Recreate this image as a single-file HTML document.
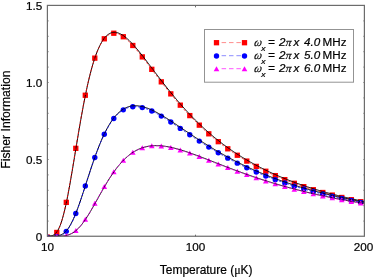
<!DOCTYPE html><html><head><meta charset="utf-8"><style>html,body{margin:0;padding:0;background:#fff}svg{display:block;will-change:transform}text{font-family:"Liberation Sans",sans-serif;fill:#000;stroke:#000;stroke-width:0.2px}</style></head><body>
<svg width="374" height="279" viewBox="0 0 374 279">
<rect width="374" height="279" fill="#fff"/>
<defs><clipPath id="c"><rect x="47.5" y="5.5" width="317.0" height="231.0"/></clipPath></defs>
<g clip-path="url(#c)">
<rect x="44.65" y="234.47" width="5.3" height="5.3" fill="#ff0000"/>
<rect x="54.15" y="229.80" width="5.3" height="5.3" fill="#ff0000"/>
<rect x="63.65" y="199.72" width="5.3" height="5.3" fill="#ff0000"/>
<rect x="73.15" y="145.70" width="5.3" height="5.3" fill="#ff0000"/>
<rect x="82.65" y="92.60" width="5.3" height="5.3" fill="#ff0000"/>
<rect x="92.15" y="55.49" width="5.3" height="5.3" fill="#ff0000"/>
<rect x="101.65" y="36.14" width="5.3" height="5.3" fill="#ff0000"/>
<rect x="111.15" y="30.58" width="5.3" height="5.3" fill="#ff0000"/>
<rect x="120.65" y="34.09" width="5.3" height="5.3" fill="#ff0000"/>
<rect x="130.15" y="42.84" width="5.3" height="5.3" fill="#ff0000"/>
<rect x="139.65" y="54.25" width="5.3" height="5.3" fill="#ff0000"/>
<rect x="149.15" y="66.69" width="5.3" height="5.3" fill="#ff0000"/>
<rect x="158.65" y="79.20" width="5.3" height="5.3" fill="#ff0000"/>
<rect x="168.15" y="91.23" width="5.3" height="5.3" fill="#ff0000"/>
<rect x="177.65" y="102.52" width="5.3" height="5.3" fill="#ff0000"/>
<rect x="187.15" y="112.95" width="5.3" height="5.3" fill="#ff0000"/>
<rect x="196.65" y="122.50" width="5.3" height="5.3" fill="#ff0000"/>
<rect x="206.15" y="131.17" width="5.3" height="5.3" fill="#ff0000"/>
<rect x="215.65" y="139.03" width="5.3" height="5.3" fill="#ff0000"/>
<rect x="225.15" y="146.15" width="5.3" height="5.3" fill="#ff0000"/>
<rect x="234.65" y="152.59" width="5.3" height="5.3" fill="#ff0000"/>
<rect x="244.15" y="158.44" width="5.3" height="5.3" fill="#ff0000"/>
<rect x="253.65" y="163.75" width="5.3" height="5.3" fill="#ff0000"/>
<rect x="263.15" y="168.59" width="5.3" height="5.3" fill="#ff0000"/>
<rect x="272.65" y="172.98" width="5.3" height="5.3" fill="#ff0000"/>
<rect x="282.15" y="176.99" width="5.3" height="5.3" fill="#ff0000"/>
<rect x="291.65" y="180.65" width="5.3" height="5.3" fill="#ff0000"/>
<rect x="301.15" y="184.00" width="5.3" height="5.3" fill="#ff0000"/>
<rect x="310.65" y="187.06" width="5.3" height="5.3" fill="#ff0000"/>
<rect x="320.15" y="189.86" width="5.3" height="5.3" fill="#ff0000"/>
<rect x="329.65" y="192.44" width="5.3" height="5.3" fill="#ff0000"/>
<rect x="339.15" y="194.82" width="5.3" height="5.3" fill="#ff0000"/>
<rect x="348.65" y="197.02" width="5.3" height="5.3" fill="#ff0000"/>
<rect x="358.15" y="199.05" width="5.3" height="5.3" fill="#ff0000"/>
<path d="M47.50,236.22 L48.29,236.20 L49.09,236.15 L49.88,236.08 L50.67,235.97 L51.46,235.81 L52.26,235.57 L53.05,235.25 L53.84,234.83 L54.63,234.28 L55.42,233.58 L56.22,232.72 L57.01,231.68 L57.80,230.44 L58.59,228.99 L59.39,227.32 L60.18,225.41 L60.97,223.27 L61.77,220.90 L62.56,218.28 L63.35,215.44 L64.14,212.36 L64.94,209.06 L65.73,205.56 L66.52,201.85 L67.31,197.97 L68.11,193.91 L68.90,189.71 L69.69,185.37 L70.48,180.91 L71.28,176.36 L72.07,171.72 L72.86,167.01 L73.65,162.26 L74.44,157.47 L75.24,152.68 L76.03,147.88 L76.82,143.09 L77.62,138.33 L78.41,133.61 L79.20,128.95 L79.99,124.35 L80.78,119.82 L81.58,115.37 L82.37,111.02 L83.16,106.76 L83.96,102.61 L84.75,98.57 L85.54,94.64 L86.33,90.83 L87.12,87.14 L87.92,83.58 L88.71,80.15 L89.50,76.85 L90.30,73.68 L91.09,70.63 L91.88,67.72 L92.67,64.94 L93.47,62.30 L94.26,59.78 L95.05,57.39 L95.84,55.12 L96.64,52.98 L97.43,50.96 L98.22,49.07 L99.01,47.29 L99.81,45.63 L100.60,44.08 L101.39,42.64 L102.18,41.31 L102.97,40.09 L103.77,38.96 L104.56,37.94 L105.35,37.01 L106.15,36.18 L106.94,35.44 L107.73,34.78 L108.52,34.21 L109.31,33.72 L110.11,33.30 L110.90,32.97 L111.69,32.71 L112.49,32.51 L113.28,32.39 L114.07,32.33 L114.86,32.34 L115.66,32.40 L116.45,32.53 L117.24,32.70 L118.03,32.93 L118.83,33.21 L119.62,33.54 L120.41,33.91 L121.20,34.33 L122.00,34.79 L122.79,35.29 L123.58,35.82 L124.37,36.40 L125.16,37.00 L125.96,37.64 L126.75,38.31 L127.54,39.01 L128.34,39.73 L129.13,40.48 L129.92,41.26 L130.71,42.06 L131.50,42.88 L132.30,43.72 L133.09,44.58 L133.88,45.46 L134.68,46.35 L135.47,47.26 L136.26,48.19 L137.05,49.13 L137.85,50.08 L138.64,51.04 L139.43,52.02 L140.22,53.00 L141.01,53.99 L141.81,54.99 L142.60,56.00 L143.39,57.02 L144.19,58.04 L144.98,59.07 L145.77,60.10 L146.56,61.13 L147.35,62.17 L148.15,63.22 L148.94,64.26 L149.73,65.31 L150.53,66.36 L151.32,67.41 L152.11,68.46 L152.90,69.51 L153.70,70.56 L154.49,71.61 L155.28,72.66 L156.07,73.70 L156.87,74.75 L157.66,75.79 L158.45,76.84 L159.24,77.88 L160.04,78.91 L160.83,79.95 L161.62,80.98 L162.41,82.00 L163.20,83.03 L164.00,84.05 L164.79,85.06 L165.58,86.07 L166.38,87.08 L167.17,88.08 L167.96,89.08 L168.75,90.07 L169.55,91.06 L170.34,92.04 L171.13,93.02 L171.92,93.99 L172.72,94.96 L173.51,95.92 L174.30,96.88 L175.09,97.83 L175.89,98.78 L176.68,99.71 L177.47,100.65 L178.26,101.57 L179.06,102.50 L179.85,103.41 L180.64,104.32 L181.43,105.22 L182.22,106.12 L183.02,107.01 L183.81,107.90 L184.60,108.78 L185.40,109.65 L186.19,110.52 L186.98,111.38 L187.77,112.23 L188.56,113.08 L189.36,113.92 L190.15,114.76 L190.94,115.59 L191.74,116.41 L192.53,117.23 L193.32,118.04 L194.11,118.84 L194.91,119.64 L195.70,120.44 L196.49,121.22 L197.28,122.00 L198.08,122.78 L198.87,123.55 L199.66,124.31 L200.45,125.06 L201.25,125.81 L202.04,126.55 L202.83,127.29 L203.62,128.02 L204.41,128.75 L205.21,129.47 L206.00,130.18 L206.79,130.89 L207.59,131.59 L208.38,132.29 L209.17,132.98 L209.96,133.66 L210.75,134.34 L211.55,135.02 L212.34,135.68 L213.13,136.35 L213.93,137.01 L214.72,137.66 L215.51,138.30 L216.30,138.95 L217.10,139.58 L217.89,140.21 L218.68,140.84 L219.47,141.46 L220.27,142.08 L221.06,142.69 L221.85,143.29 L222.64,143.89 L223.44,144.49 L224.23,145.08 L225.02,145.66 L225.81,146.25 L226.60,146.82 L227.40,147.39 L228.19,147.96 L228.98,148.52 L229.78,149.08 L230.57,149.63 L231.36,150.18 L232.15,150.73 L232.95,151.26 L233.74,151.80 L234.53,152.33 L235.32,152.86 L236.12,153.38 L236.91,153.90 L237.70,154.41 L238.49,154.92 L239.29,155.42 L240.08,155.92 L240.87,156.42 L241.66,156.91 L242.46,157.40 L243.25,157.89 L244.04,158.37 L244.83,158.84 L245.62,159.32 L246.42,159.79 L247.21,160.25 L248.00,160.71 L248.80,161.17 L249.59,161.63 L250.38,162.08 L251.17,162.53 L251.97,162.97 L252.76,163.42 L253.55,163.85 L254.34,164.29 L255.13,164.72 L255.93,165.15 L256.72,165.57 L257.51,165.99 L258.31,166.41 L259.10,166.82 L259.89,167.23 L260.68,167.64 L261.48,168.04 L262.27,168.44 L263.06,168.84 L263.85,169.24 L264.64,169.63 L265.44,170.02 L266.23,170.40 L267.02,170.78 L267.82,171.16 L268.61,171.54 L269.40,171.91 L270.19,172.28 L270.99,172.65 L271.78,173.02 L272.57,173.38 L273.36,173.74 L274.15,174.09 L274.95,174.45 L275.74,174.80 L276.53,175.15 L277.33,175.49 L278.12,175.83 L278.91,176.17 L279.70,176.51 L280.50,176.85 L281.29,177.18 L282.08,177.51 L282.87,177.84 L283.67,178.16 L284.46,178.48 L285.25,178.80 L286.04,179.12 L286.83,179.44 L287.63,179.75 L288.42,180.06 L289.21,180.37 L290.00,180.68 L290.80,180.98 L291.59,181.28 L292.38,181.58 L293.18,181.88 L293.97,182.17 L294.76,182.46 L295.55,182.75 L296.35,183.04 L297.14,183.33 L297.93,183.61 L298.72,183.89 L299.52,184.17 L300.31,184.45 L301.10,184.73 L301.89,185.00 L302.69,185.27 L303.48,185.54 L304.27,185.81 L305.06,186.08 L305.86,186.34 L306.65,186.60 L307.44,186.86 L308.23,187.12 L309.03,187.37 L309.82,187.62 L310.61,187.88 L311.40,188.13 L312.20,188.37 L312.99,188.62 L313.78,188.86 L314.57,189.11 L315.37,189.35 L316.16,189.59 L316.95,189.83 L317.74,190.06 L318.53,190.30 L319.33,190.53 L320.12,190.76 L320.91,190.99 L321.70,191.22 L322.50,191.44 L323.29,191.67 L324.08,191.89 L324.88,192.11 L325.67,192.33 L326.46,192.55 L327.25,192.77 L328.05,192.98 L328.84,193.20 L329.63,193.41 L330.42,193.62 L331.22,193.83 L332.01,194.04 L332.80,194.25 L333.59,194.45 L334.38,194.66 L335.18,194.86 L335.97,195.06 L336.76,195.26 L337.56,195.46 L338.35,195.66 L339.14,195.85 L339.93,196.05 L340.73,196.24 L341.52,196.43 L342.31,196.62 L343.10,196.81 L343.90,197.00 L344.69,197.19 L345.48,197.37 L346.27,197.56 L347.07,197.74 L347.86,197.93 L348.65,198.11 L349.44,198.29 L350.24,198.46 L351.03,198.64 L351.82,198.82 L352.61,198.99 L353.41,199.17 L354.20,199.34 L354.99,199.51 L355.78,199.68 L356.57,199.85 L357.37,200.02 L358.16,200.19 L358.95,200.36 L359.75,200.52 L360.54,200.69 L361.33,200.85 L362.12,201.01 L362.92,201.17 L363.71,201.33 L364.50,201.48" fill="none" stroke="#000" stroke-width="1"/>
<path d="M47.20,237.12 L47.99,237.10 L48.79,237.05 L49.58,236.98 L50.37,236.87 L51.16,236.71 L51.96,236.47 L52.75,236.15 L53.54,235.73 L54.33,235.18 L55.12,234.48 L55.92,233.62 L56.71,232.58 L57.50,231.34 L58.30,229.89 L59.09,228.22 L59.88,226.31 L60.67,224.17 L61.47,221.80 L62.26,219.18 L63.05,216.34 L63.84,213.26 L64.64,209.96 L65.43,206.46 L66.22,202.75 L67.01,198.87 L67.81,194.81 L68.60,190.61 L69.39,186.27 L70.18,181.81 L70.98,177.26 L71.77,172.62 L72.56,167.91 L73.35,163.16 L74.14,158.37 L74.94,153.58 L75.73,148.78 L76.52,143.99 L77.32,139.23 L78.11,134.51 L78.90,129.85 L79.69,125.25 L80.48,120.72 L81.28,116.27 L82.07,111.92 L82.86,107.66 L83.66,103.51 L84.45,99.47 L85.24,95.54 L86.03,91.73 L86.83,88.04 L87.62,84.48 L88.41,81.05 L89.20,77.75 L90.00,74.58 L90.79,71.53 L91.58,68.62 L92.37,65.84 L93.17,63.20 L93.96,60.68 L94.75,58.29 L95.54,56.02 L96.34,53.88 L97.13,51.86 L97.92,49.97 L98.71,48.19 L99.51,46.53 L100.30,44.98 L101.09,43.54 L101.88,42.21 L102.67,40.99 L103.47,39.86 L104.26,38.84 L105.05,37.91 L105.85,37.08 L106.64,36.34 L107.43,35.68 L108.22,35.11 L109.02,34.62 L109.81,34.20 L110.60,33.87 L111.39,33.61 L112.19,33.41 L112.98,33.29 L113.77,33.23 L114.56,33.24 L115.36,33.30 L116.15,33.43 L116.94,33.60 L117.73,33.83 L118.53,34.11 L119.32,34.44 L120.11,34.81 L120.90,35.23 L121.70,35.69 L122.49,36.19 L123.28,36.72 L124.07,37.30 L124.86,37.90 L125.66,38.54 L126.45,39.21 L127.24,39.91 L128.03,40.63 L128.83,41.38 L129.62,42.16 L130.41,42.96 L131.20,43.78 L132.00,44.62 L132.79,45.48 L133.58,46.36 L134.38,47.25 L135.17,48.16 L135.96,49.09 L136.75,50.03 L137.55,50.98 L138.34,51.94 L139.13,52.92 L139.92,53.90 L140.71,54.89 L141.51,55.89 L142.30,56.90 L143.09,57.92 L143.88,58.94 L144.68,59.97 L145.47,61.00 L146.26,62.03 L147.05,63.07 L147.85,64.12 L148.64,65.16 L149.43,66.21 L150.22,67.26 L151.02,68.31 L151.81,69.36 L152.60,70.41 L153.40,71.46 L154.19,72.51 L154.98,73.56 L155.77,74.60 L156.56,75.65 L157.36,76.69 L158.15,77.74 L158.94,78.78 L159.74,79.81 L160.53,80.85 L161.32,81.88 L162.11,82.90 L162.90,83.93 L163.70,84.95 L164.49,85.96 L165.28,86.97 L166.07,87.98 L166.87,88.98 L167.66,89.98 L168.45,90.97 L169.25,91.96 L170.04,92.94 L170.83,93.92 L171.62,94.89 L172.41,95.86 L173.21,96.82 L174.00,97.78 L174.79,98.73 L175.59,99.68 L176.38,100.61 L177.17,101.55 L177.96,102.47 L178.75,103.40 L179.55,104.31 L180.34,105.22 L181.13,106.12 L181.92,107.02 L182.72,107.91 L183.51,108.80 L184.30,109.68 L185.09,110.55 L185.89,111.42 L186.68,112.28 L187.47,113.13 L188.26,113.98 L189.06,114.82 L189.85,115.66 L190.64,116.49 L191.44,117.31 L192.23,118.13 L193.02,118.94 L193.81,119.74 L194.60,120.54 L195.40,121.34 L196.19,122.12 L196.98,122.90 L197.78,123.68 L198.57,124.45 L199.36,125.21 L200.15,125.96 L200.94,126.71 L201.74,127.45 L202.53,128.19 L203.32,128.92 L204.11,129.65 L204.91,130.37 L205.70,131.08 L206.49,131.79 L207.28,132.49 L208.08,133.19 L208.87,133.88 L209.66,134.56 L210.45,135.24 L211.25,135.92 L212.04,136.58 L212.83,137.25 L213.62,137.91 L214.42,138.56 L215.21,139.20 L216.00,139.85 L216.80,140.48 L217.59,141.11 L218.38,141.74 L219.17,142.36 L219.97,142.98 L220.76,143.59 L221.55,144.19 L222.34,144.79 L223.13,145.39 L223.93,145.98 L224.72,146.56 L225.51,147.15 L226.30,147.72 L227.10,148.29 L227.89,148.86 L228.68,149.42 L229.47,149.98 L230.27,150.53 L231.06,151.08 L231.85,151.63 L232.65,152.16 L233.44,152.70 L234.23,153.23 L235.02,153.76 L235.81,154.28 L236.61,154.80 L237.40,155.31 L238.19,155.82 L238.99,156.32 L239.78,156.82 L240.57,157.32 L241.36,157.81 L242.16,158.30 L242.95,158.79 L243.74,159.27 L244.53,159.74 L245.32,160.22 L246.12,160.69 L246.91,161.15 L247.70,161.61 L248.50,162.07 L249.29,162.53 L250.08,162.98 L250.87,163.43 L251.67,163.87 L252.46,164.32 L253.25,164.75 L254.04,165.19 L254.83,165.62 L255.63,166.05 L256.42,166.47 L257.21,166.89 L258.00,167.31 L258.80,167.72 L259.59,168.13 L260.38,168.54 L261.18,168.94 L261.97,169.34 L262.76,169.74 L263.55,170.14 L264.34,170.53 L265.14,170.92 L265.93,171.30 L266.72,171.68 L267.52,172.06 L268.31,172.44 L269.10,172.81 L269.89,173.18 L270.69,173.55 L271.48,173.92 L272.27,174.28 L273.06,174.64 L273.85,174.99 L274.65,175.35 L275.44,175.70 L276.23,176.05 L277.03,176.39 L277.82,176.73 L278.61,177.07 L279.40,177.41 L280.19,177.75 L280.99,178.08 L281.78,178.41 L282.57,178.74 L283.37,179.06 L284.16,179.38 L284.95,179.70 L285.74,180.02 L286.53,180.34 L287.33,180.65 L288.12,180.96 L288.91,181.27 L289.70,181.58 L290.50,181.88 L291.29,182.18 L292.08,182.48 L292.88,182.78 L293.67,183.07 L294.46,183.36 L295.25,183.65 L296.05,183.94 L296.84,184.23 L297.63,184.51 L298.42,184.79 L299.22,185.07 L300.01,185.35 L300.80,185.63 L301.59,185.90 L302.38,186.17 L303.18,186.44 L303.97,186.71 L304.76,186.98 L305.56,187.24 L306.35,187.50 L307.14,187.76 L307.93,188.02 L308.73,188.27 L309.52,188.52 L310.31,188.78 L311.10,189.03 L311.90,189.27 L312.69,189.52 L313.48,189.76 L314.27,190.01 L315.06,190.25 L315.86,190.49 L316.65,190.73 L317.44,190.96 L318.23,191.20 L319.03,191.43 L319.82,191.66 L320.61,191.89 L321.40,192.12 L322.20,192.34 L322.99,192.57 L323.78,192.79 L324.57,193.01 L325.37,193.23 L326.16,193.45 L326.95,193.67 L327.75,193.88 L328.54,194.10 L329.33,194.31 L330.12,194.52 L330.92,194.73 L331.71,194.94 L332.50,195.15 L333.29,195.35 L334.08,195.56 L334.88,195.76 L335.67,195.96 L336.46,196.16 L337.25,196.36 L338.05,196.56 L338.84,196.75 L339.63,196.95 L340.43,197.14 L341.22,197.33 L342.01,197.52 L342.80,197.71 L343.60,197.90 L344.39,198.09 L345.18,198.27 L345.97,198.46 L346.77,198.64 L347.56,198.83 L348.35,199.01 L349.14,199.19 L349.94,199.36 L350.73,199.54 L351.52,199.72 L352.31,199.89 L353.11,200.07 L353.90,200.24 L354.69,200.41 L355.48,200.58 L356.27,200.75 L357.07,200.92 L357.86,201.09 L358.65,201.26 L359.44,201.42 L360.24,201.59 L361.03,201.75 L361.82,201.91 L362.62,202.07 L363.41,202.23 L364.20,202.38" fill="none" stroke="#ff0000" stroke-opacity="0.8" stroke-width="1" stroke-dasharray="2.4,1.6"/>
<circle cx="47.30" cy="237.15" r="2.7" fill="#0000ff"/>
<circle cx="56.80" cy="236.80" r="2.7" fill="#0000ff"/>
<circle cx="66.30" cy="231.35" r="2.7" fill="#0000ff"/>
<circle cx="75.80" cy="213.51" r="2.7" fill="#0000ff"/>
<circle cx="85.30" cy="185.97" r="2.7" fill="#0000ff"/>
<circle cx="94.80" cy="157.44" r="2.7" fill="#0000ff"/>
<circle cx="104.30" cy="134.25" r="2.7" fill="#0000ff"/>
<circle cx="113.80" cy="118.54" r="2.7" fill="#0000ff"/>
<circle cx="123.30" cy="109.86" r="2.7" fill="#0000ff"/>
<circle cx="132.80" cy="106.74" r="2.7" fill="#0000ff"/>
<circle cx="142.30" cy="107.58" r="2.7" fill="#0000ff"/>
<circle cx="151.80" cy="111.05" r="2.7" fill="#0000ff"/>
<circle cx="161.30" cy="116.11" r="2.7" fill="#0000ff"/>
<circle cx="170.80" cy="122.07" r="2.7" fill="#0000ff"/>
<circle cx="180.30" cy="128.41" r="2.7" fill="#0000ff"/>
<circle cx="189.80" cy="134.82" r="2.7" fill="#0000ff"/>
<circle cx="199.30" cy="141.09" r="2.7" fill="#0000ff"/>
<circle cx="208.80" cy="147.11" r="2.7" fill="#0000ff"/>
<circle cx="218.30" cy="152.81" r="2.7" fill="#0000ff"/>
<circle cx="227.80" cy="158.15" r="2.7" fill="#0000ff"/>
<circle cx="237.30" cy="163.13" r="2.7" fill="#0000ff"/>
<circle cx="246.80" cy="167.75" r="2.7" fill="#0000ff"/>
<circle cx="256.30" cy="172.03" r="2.7" fill="#0000ff"/>
<circle cx="265.80" cy="175.99" r="2.7" fill="#0000ff"/>
<circle cx="275.30" cy="179.64" r="2.7" fill="#0000ff"/>
<circle cx="284.80" cy="183.02" r="2.7" fill="#0000ff"/>
<circle cx="294.30" cy="186.13" r="2.7" fill="#0000ff"/>
<circle cx="303.80" cy="189.01" r="2.7" fill="#0000ff"/>
<circle cx="313.30" cy="191.68" r="2.7" fill="#0000ff"/>
<circle cx="322.80" cy="194.14" r="2.7" fill="#0000ff"/>
<circle cx="332.30" cy="196.43" r="2.7" fill="#0000ff"/>
<circle cx="341.80" cy="198.54" r="2.7" fill="#0000ff"/>
<circle cx="351.30" cy="200.51" r="2.7" fill="#0000ff"/>
<circle cx="360.80" cy="202.34" r="2.7" fill="#0000ff"/>
<path d="M47.50,236.25 L48.29,236.25 L49.09,236.25 L49.88,236.25 L50.67,236.24 L51.46,236.24 L52.26,236.22 L53.05,236.21 L53.84,236.18 L54.63,236.14 L55.42,236.09 L56.22,236.01 L57.01,235.91 L57.80,235.78 L58.59,235.61 L59.39,235.40 L60.18,235.14 L60.97,234.83 L61.77,234.45 L62.56,234.00 L63.35,233.47 L64.14,232.87 L64.94,232.19 L65.73,231.41 L66.52,230.54 L67.31,229.58 L68.11,228.53 L68.90,227.37 L69.69,226.12 L70.48,224.77 L71.28,223.32 L72.07,221.79 L72.86,220.15 L73.65,218.43 L74.44,216.63 L75.24,214.75 L76.03,212.78 L76.82,210.75 L77.62,208.65 L78.41,206.49 L79.20,204.28 L79.99,202.01 L80.78,199.70 L81.58,197.36 L82.37,194.98 L83.16,192.57 L83.96,190.15 L84.75,187.70 L85.54,185.25 L86.33,182.79 L87.12,180.34 L87.92,177.88 L88.71,175.44 L89.50,173.01 L90.30,170.59 L91.09,168.20 L91.88,165.84 L92.67,163.50 L93.47,161.19 L94.26,158.92 L95.05,156.68 L95.84,154.49 L96.64,152.33 L97.43,150.22 L98.22,148.16 L99.01,146.14 L99.81,144.17 L100.60,142.25 L101.39,140.38 L102.18,138.57 L102.97,136.80 L103.77,135.09 L104.56,133.43 L105.35,131.83 L106.15,130.28 L106.94,128.78 L107.73,127.33 L108.52,125.94 L109.31,124.61 L110.11,123.32 L110.90,122.09 L111.69,120.91 L112.49,119.78 L113.28,118.71 L114.07,117.68 L114.86,116.70 L115.66,115.77 L116.45,114.89 L117.24,114.06 L118.03,113.27 L118.83,112.53 L119.62,111.83 L120.41,111.18 L121.20,110.56 L122.00,109.99 L122.79,109.46 L123.58,108.97 L124.37,108.52 L125.16,108.11 L125.96,107.73 L126.75,107.39 L127.54,107.09 L128.34,106.81 L129.13,106.57 L129.92,106.37 L130.71,106.19 L131.50,106.04 L132.30,105.93 L133.09,105.84 L133.88,105.78 L134.68,105.74 L135.47,105.74 L136.26,105.75 L137.05,105.79 L137.85,105.85 L138.64,105.94 L139.43,106.05 L140.22,106.18 L141.01,106.33 L141.81,106.49 L142.60,106.68 L143.39,106.89 L144.19,107.11 L144.98,107.35 L145.77,107.60 L146.56,107.87 L147.35,108.16 L148.15,108.46 L148.94,108.77 L149.73,109.10 L150.53,109.44 L151.32,109.79 L152.11,110.15 L152.90,110.52 L153.70,110.91 L154.49,111.30 L155.28,111.70 L156.07,112.12 L156.87,112.54 L157.66,112.97 L158.45,113.41 L159.24,113.85 L160.04,114.30 L160.83,114.76 L161.62,115.23 L162.41,115.70 L163.20,116.17 L164.00,116.66 L164.79,117.14 L165.58,117.63 L166.38,118.13 L167.17,118.63 L167.96,119.14 L168.75,119.64 L169.55,120.15 L170.34,120.67 L171.13,121.19 L171.92,121.71 L172.72,122.23 L173.51,122.75 L174.30,123.28 L175.09,123.81 L175.89,124.33 L176.68,124.87 L177.47,125.40 L178.26,125.93 L179.06,126.46 L179.85,127.00 L180.64,127.53 L181.43,128.07 L182.22,128.61 L183.02,129.14 L183.81,129.68 L184.60,130.21 L185.40,130.75 L186.19,131.28 L186.98,131.82 L187.77,132.35 L188.56,132.89 L189.36,133.42 L190.15,133.95 L190.94,134.48 L191.74,135.01 L192.53,135.54 L193.32,136.07 L194.11,136.59 L194.91,137.12 L195.70,137.64 L196.49,138.16 L197.28,138.68 L198.08,139.20 L198.87,139.72 L199.66,140.23 L200.45,140.75 L201.25,141.26 L202.04,141.77 L202.83,142.27 L203.62,142.78 L204.41,143.28 L205.21,143.78 L206.00,144.28 L206.79,144.78 L207.59,145.27 L208.38,145.77 L209.17,146.26 L209.96,146.74 L210.75,147.23 L211.55,147.71 L212.34,148.19 L213.13,148.67 L213.93,149.15 L214.72,149.62 L215.51,150.10 L216.30,150.56 L217.10,151.03 L217.89,151.49 L218.68,151.96 L219.47,152.42 L220.27,152.87 L221.06,153.33 L221.85,153.78 L222.64,154.23 L223.44,154.67 L224.23,155.12 L225.02,155.56 L225.81,156.00 L226.60,156.44 L227.40,156.87 L228.19,157.30 L228.98,157.73 L229.78,158.16 L230.57,158.58 L231.36,159.00 L232.15,159.42 L232.95,159.84 L233.74,160.25 L234.53,160.66 L235.32,161.07 L236.12,161.48 L236.91,161.88 L237.70,162.28 L238.49,162.68 L239.29,163.08 L240.08,163.47 L240.87,163.86 L241.66,164.25 L242.46,164.64 L243.25,165.02 L244.04,165.40 L244.83,165.78 L245.62,166.16 L246.42,166.53 L247.21,166.90 L248.00,167.27 L248.80,167.64 L249.59,168.01 L250.38,168.37 L251.17,168.73 L251.97,169.09 L252.76,169.44 L253.55,169.79 L254.34,170.15 L255.13,170.49 L255.93,170.84 L256.72,171.18 L257.51,171.53 L258.31,171.87 L259.10,172.20 L259.89,172.54 L260.68,172.87 L261.48,173.20 L262.27,173.53 L263.06,173.86 L263.85,174.18 L264.64,174.50 L265.44,174.82 L266.23,175.14 L267.02,175.46 L267.82,175.77 L268.61,176.08 L269.40,176.39 L270.19,176.70 L270.99,177.00 L271.78,177.31 L272.57,177.61 L273.36,177.91 L274.15,178.20 L274.95,178.50 L275.74,178.79 L276.53,179.08 L277.33,179.37 L278.12,179.66 L278.91,179.95 L279.70,180.23 L280.50,180.51 L281.29,180.79 L282.08,181.07 L282.87,181.35 L283.67,181.62 L284.46,181.90 L285.25,182.17 L286.04,182.44 L286.83,182.70 L287.63,182.97 L288.42,183.23 L289.21,183.50 L290.00,183.76 L290.80,184.01 L291.59,184.27 L292.38,184.53 L293.18,184.78 L293.97,185.03 L294.76,185.28 L295.55,185.53 L296.35,185.78 L297.14,186.02 L297.93,186.27 L298.72,186.51 L299.52,186.75 L300.31,186.99 L301.10,187.23 L301.89,187.46 L302.69,187.70 L303.48,187.93 L304.27,188.16 L305.06,188.39 L305.86,188.62 L306.65,188.85 L307.44,189.07 L308.23,189.30 L309.03,189.52 L309.82,189.74 L310.61,189.96 L311.40,190.18 L312.20,190.40 L312.99,190.61 L313.78,190.82 L314.57,191.04 L315.37,191.25 L316.16,191.46 L316.95,191.67 L317.74,191.87 L318.53,192.08 L319.33,192.28 L320.12,192.49 L320.91,192.69 L321.70,192.89 L322.50,193.09 L323.29,193.29 L324.08,193.49 L324.88,193.68 L325.67,193.88 L326.46,194.07 L327.25,194.26 L328.05,194.45 L328.84,194.64 L329.63,194.83 L330.42,195.02 L331.22,195.20 L332.01,195.39 L332.80,195.57 L333.59,195.75 L334.38,195.94 L335.18,196.12 L335.97,196.29 L336.76,196.47 L337.56,196.65 L338.35,196.83 L339.14,197.00 L339.93,197.17 L340.73,197.35 L341.52,197.52 L342.31,197.69 L343.10,197.86 L343.90,198.03 L344.69,198.19 L345.48,198.36 L346.27,198.53 L347.07,198.69 L347.86,198.85 L348.65,199.01 L349.44,199.18 L350.24,199.34 L351.03,199.50 L351.82,199.65 L352.61,199.81 L353.41,199.97 L354.20,200.12 L354.99,200.28 L355.78,200.43 L356.57,200.58 L357.37,200.74 L358.16,200.89 L358.95,201.04 L359.75,201.19 L360.54,201.33 L361.33,201.48 L362.12,201.63 L362.92,201.77 L363.71,201.92 L364.50,202.06" fill="none" stroke="#000" stroke-width="1"/>
<path d="M47.20,237.15 L47.99,237.15 L48.79,237.15 L49.58,237.15 L50.37,237.14 L51.16,237.14 L51.96,237.12 L52.75,237.11 L53.54,237.08 L54.33,237.04 L55.12,236.99 L55.92,236.91 L56.71,236.81 L57.50,236.68 L58.30,236.51 L59.09,236.30 L59.88,236.04 L60.67,235.73 L61.47,235.35 L62.26,234.90 L63.05,234.37 L63.84,233.77 L64.64,233.09 L65.43,232.31 L66.22,231.44 L67.01,230.48 L67.81,229.43 L68.60,228.27 L69.39,227.02 L70.18,225.67 L70.98,224.22 L71.77,222.69 L72.56,221.05 L73.35,219.33 L74.14,217.53 L74.94,215.65 L75.73,213.68 L76.52,211.65 L77.32,209.55 L78.11,207.39 L78.90,205.18 L79.69,202.91 L80.48,200.60 L81.28,198.26 L82.07,195.88 L82.86,193.47 L83.66,191.05 L84.45,188.60 L85.24,186.15 L86.03,183.69 L86.83,181.24 L87.62,178.78 L88.41,176.34 L89.20,173.91 L90.00,171.49 L90.79,169.10 L91.58,166.74 L92.37,164.40 L93.17,162.09 L93.96,159.82 L94.75,157.58 L95.54,155.39 L96.34,153.23 L97.13,151.12 L97.92,149.06 L98.71,147.04 L99.51,145.07 L100.30,143.15 L101.09,141.28 L101.88,139.47 L102.67,137.70 L103.47,135.99 L104.26,134.33 L105.05,132.73 L105.85,131.18 L106.64,129.68 L107.43,128.23 L108.22,126.84 L109.02,125.51 L109.81,124.22 L110.60,122.99 L111.39,121.81 L112.19,120.68 L112.98,119.61 L113.77,118.58 L114.56,117.60 L115.36,116.67 L116.15,115.79 L116.94,114.96 L117.73,114.17 L118.53,113.43 L119.32,112.73 L120.11,112.08 L120.90,111.46 L121.70,110.89 L122.49,110.36 L123.28,109.87 L124.07,109.42 L124.86,109.01 L125.66,108.63 L126.45,108.29 L127.24,107.99 L128.03,107.71 L128.83,107.47 L129.62,107.27 L130.41,107.09 L131.20,106.94 L132.00,106.83 L132.79,106.74 L133.58,106.68 L134.38,106.64 L135.17,106.64 L135.96,106.65 L136.75,106.69 L137.55,106.75 L138.34,106.84 L139.13,106.95 L139.92,107.08 L140.71,107.23 L141.51,107.39 L142.30,107.58 L143.09,107.79 L143.88,108.01 L144.68,108.25 L145.47,108.50 L146.26,108.77 L147.05,109.06 L147.85,109.36 L148.64,109.67 L149.43,110.00 L150.22,110.34 L151.02,110.69 L151.81,111.05 L152.60,111.42 L153.40,111.81 L154.19,112.20 L154.98,112.60 L155.77,113.02 L156.56,113.44 L157.36,113.87 L158.15,114.31 L158.94,114.75 L159.74,115.20 L160.53,115.66 L161.32,116.13 L162.11,116.60 L162.90,117.07 L163.70,117.56 L164.49,118.04 L165.28,118.53 L166.07,119.03 L166.87,119.53 L167.66,120.04 L168.45,120.54 L169.25,121.05 L170.04,121.57 L170.83,122.09 L171.62,122.61 L172.41,123.13 L173.21,123.65 L174.00,124.18 L174.79,124.71 L175.59,125.23 L176.38,125.77 L177.17,126.30 L177.96,126.83 L178.75,127.36 L179.55,127.90 L180.34,128.43 L181.13,128.97 L181.92,129.51 L182.72,130.04 L183.51,130.58 L184.30,131.11 L185.09,131.65 L185.89,132.18 L186.68,132.72 L187.47,133.25 L188.26,133.79 L189.06,134.32 L189.85,134.85 L190.64,135.38 L191.44,135.91 L192.23,136.44 L193.02,136.97 L193.81,137.49 L194.60,138.02 L195.40,138.54 L196.19,139.06 L196.98,139.58 L197.78,140.10 L198.57,140.62 L199.36,141.13 L200.15,141.65 L200.94,142.16 L201.74,142.67 L202.53,143.17 L203.32,143.68 L204.11,144.18 L204.91,144.68 L205.70,145.18 L206.49,145.68 L207.28,146.17 L208.08,146.67 L208.87,147.16 L209.66,147.64 L210.45,148.13 L211.25,148.61 L212.04,149.09 L212.83,149.57 L213.62,150.05 L214.42,150.52 L215.21,151.00 L216.00,151.46 L216.80,151.93 L217.59,152.39 L218.38,152.86 L219.17,153.32 L219.97,153.77 L220.76,154.23 L221.55,154.68 L222.34,155.13 L223.13,155.57 L223.93,156.02 L224.72,156.46 L225.51,156.90 L226.30,157.34 L227.10,157.77 L227.89,158.20 L228.68,158.63 L229.47,159.06 L230.27,159.48 L231.06,159.90 L231.85,160.32 L232.65,160.74 L233.44,161.15 L234.23,161.56 L235.02,161.97 L235.81,162.38 L236.61,162.78 L237.40,163.18 L238.19,163.58 L238.99,163.98 L239.78,164.37 L240.57,164.76 L241.36,165.15 L242.16,165.54 L242.95,165.92 L243.74,166.30 L244.53,166.68 L245.32,167.06 L246.12,167.43 L246.91,167.80 L247.70,168.17 L248.50,168.54 L249.29,168.91 L250.08,169.27 L250.87,169.63 L251.67,169.99 L252.46,170.34 L253.25,170.69 L254.04,171.05 L254.83,171.39 L255.63,171.74 L256.42,172.08 L257.21,172.43 L258.00,172.77 L258.80,173.10 L259.59,173.44 L260.38,173.77 L261.18,174.10 L261.97,174.43 L262.76,174.76 L263.55,175.08 L264.34,175.40 L265.14,175.72 L265.93,176.04 L266.72,176.36 L267.52,176.67 L268.31,176.98 L269.10,177.29 L269.89,177.60 L270.69,177.90 L271.48,178.21 L272.27,178.51 L273.06,178.81 L273.85,179.10 L274.65,179.40 L275.44,179.69 L276.23,179.98 L277.03,180.27 L277.82,180.56 L278.61,180.85 L279.40,181.13 L280.19,181.41 L280.99,181.69 L281.78,181.97 L282.57,182.25 L283.37,182.52 L284.16,182.80 L284.95,183.07 L285.74,183.34 L286.53,183.60 L287.33,183.87 L288.12,184.13 L288.91,184.40 L289.70,184.66 L290.50,184.91 L291.29,185.17 L292.08,185.43 L292.88,185.68 L293.67,185.93 L294.46,186.18 L295.25,186.43 L296.05,186.68 L296.84,186.92 L297.63,187.17 L298.42,187.41 L299.22,187.65 L300.01,187.89 L300.80,188.13 L301.59,188.36 L302.38,188.60 L303.18,188.83 L303.97,189.06 L304.76,189.29 L305.56,189.52 L306.35,189.75 L307.14,189.97 L307.93,190.20 L308.73,190.42 L309.52,190.64 L310.31,190.86 L311.10,191.08 L311.90,191.30 L312.69,191.51 L313.48,191.72 L314.27,191.94 L315.06,192.15 L315.86,192.36 L316.65,192.57 L317.44,192.77 L318.23,192.98 L319.03,193.18 L319.82,193.39 L320.61,193.59 L321.40,193.79 L322.20,193.99 L322.99,194.19 L323.78,194.39 L324.57,194.58 L325.37,194.78 L326.16,194.97 L326.95,195.16 L327.75,195.35 L328.54,195.54 L329.33,195.73 L330.12,195.92 L330.92,196.10 L331.71,196.29 L332.50,196.47 L333.29,196.65 L334.08,196.84 L334.88,197.02 L335.67,197.19 L336.46,197.37 L337.25,197.55 L338.05,197.73 L338.84,197.90 L339.63,198.07 L340.43,198.25 L341.22,198.42 L342.01,198.59 L342.80,198.76 L343.60,198.93 L344.39,199.09 L345.18,199.26 L345.97,199.43 L346.77,199.59 L347.56,199.75 L348.35,199.91 L349.14,200.08 L349.94,200.24 L350.73,200.40 L351.52,200.55 L352.31,200.71 L353.11,200.87 L353.90,201.02 L354.69,201.18 L355.48,201.33 L356.27,201.48 L357.07,201.64 L357.86,201.79 L358.65,201.94 L359.44,202.09 L360.24,202.23 L361.03,202.38 L361.82,202.53 L362.62,202.67 L363.41,202.82 L364.20,202.96" fill="none" stroke="#0000ff" stroke-opacity="0.8" stroke-width="1" stroke-dasharray="2.4,1.6"/>
<path d="M44.50,238.80 L50.10,238.80 L47.30,233.80 Z" fill="#ff00ff"/>
<path d="M54.00,238.78 L59.60,238.78 L56.80,233.78 Z" fill="#ff00ff"/>
<path d="M63.50,237.91 L69.10,237.91 L66.30,232.91 Z" fill="#ff00ff"/>
<path d="M73.00,232.99 L78.60,232.99 L75.80,227.99 Z" fill="#ff00ff"/>
<path d="M82.50,221.73 L88.10,221.73 L85.30,216.73 Z" fill="#ff00ff"/>
<path d="M92.00,205.86 L97.60,205.86 L94.80,200.86 Z" fill="#ff00ff"/>
<path d="M101.50,189.03 L107.10,189.03 L104.30,184.03 Z" fill="#ff00ff"/>
<path d="M111.00,174.16 L116.60,174.16 L113.80,169.16 Z" fill="#ff00ff"/>
<path d="M120.50,162.67 L126.10,162.67 L123.30,157.67 Z" fill="#ff00ff"/>
<path d="M130.00,154.82 L135.60,154.82 L132.80,149.82 Z" fill="#ff00ff"/>
<path d="M139.50,150.26 L145.10,150.26 L142.30,145.26 Z" fill="#ff00ff"/>
<path d="M149.00,148.34 L154.60,148.34 L151.80,143.34 Z" fill="#ff00ff"/>
<path d="M158.50,148.42 L164.10,148.42 L161.30,143.42 Z" fill="#ff00ff"/>
<path d="M168.00,149.94 L173.60,149.94 L170.80,144.94 Z" fill="#ff00ff"/>
<path d="M177.50,152.44 L183.10,152.44 L180.30,147.44 Z" fill="#ff00ff"/>
<path d="M187.00,155.56 L192.60,155.56 L189.80,150.56 Z" fill="#ff00ff"/>
<path d="M196.50,159.05 L202.10,159.05 L199.30,154.05 Z" fill="#ff00ff"/>
<path d="M206.00,162.71 L211.60,162.71 L208.80,157.71 Z" fill="#ff00ff"/>
<path d="M215.50,166.41 L221.10,166.41 L218.30,161.41 Z" fill="#ff00ff"/>
<path d="M225.00,170.08 L230.60,170.08 L227.80,165.08 Z" fill="#ff00ff"/>
<path d="M234.50,173.64 L240.10,173.64 L237.30,168.64 Z" fill="#ff00ff"/>
<path d="M244.00,177.06 L249.60,177.06 L246.80,172.06 Z" fill="#ff00ff"/>
<path d="M253.50,180.33 L259.10,180.33 L256.30,175.33 Z" fill="#ff00ff"/>
<path d="M263.00,183.42 L268.60,183.42 L265.80,178.42 Z" fill="#ff00ff"/>
<path d="M272.50,186.33 L278.10,186.33 L275.30,181.33 Z" fill="#ff00ff"/>
<path d="M282.00,189.08 L287.60,189.08 L284.80,184.08 Z" fill="#ff00ff"/>
<path d="M291.50,191.65 L297.10,191.65 L294.30,186.65 Z" fill="#ff00ff"/>
<path d="M301.00,194.06 L306.60,194.06 L303.80,189.06 Z" fill="#ff00ff"/>
<path d="M310.50,196.30 L316.10,196.30 L313.30,191.30 Z" fill="#ff00ff"/>
<path d="M320.00,198.40 L325.60,198.40 L322.80,193.40 Z" fill="#ff00ff"/>
<path d="M329.50,200.36 L335.10,200.36 L332.30,195.36 Z" fill="#ff00ff"/>
<path d="M339.00,202.20 L344.60,202.20 L341.80,197.20 Z" fill="#ff00ff"/>
<path d="M348.50,203.91 L354.10,203.91 L351.30,198.91 Z" fill="#ff00ff"/>
<path d="M358.00,205.51 L363.60,205.51 L360.80,200.51 Z" fill="#ff00ff"/>
<path d="M47.50,236.25 L48.29,236.25 L49.09,236.25 L49.88,236.25 L50.67,236.25 L51.46,236.25 L52.26,236.25 L53.05,236.25 L53.84,236.25 L54.63,236.24 L55.42,236.24 L56.22,236.24 L57.01,236.23 L57.80,236.22 L58.59,236.20 L59.39,236.18 L60.18,236.15 L60.97,236.11 L61.77,236.05 L62.56,235.99 L63.35,235.91 L64.14,235.81 L64.94,235.69 L65.73,235.55 L66.52,235.38 L67.31,235.18 L68.11,234.95 L68.90,234.69 L69.69,234.39 L70.48,234.05 L71.28,233.68 L72.07,233.26 L72.86,232.80 L73.65,232.29 L74.44,231.74 L75.24,231.15 L76.03,230.50 L76.82,229.81 L77.62,229.07 L78.41,228.29 L79.20,227.45 L79.99,226.58 L80.78,225.66 L81.58,224.69 L82.37,223.68 L83.16,222.64 L83.96,221.55 L84.75,220.43 L85.54,219.27 L86.33,218.07 L87.12,216.85 L87.92,215.60 L88.71,214.32 L89.50,213.02 L90.30,211.69 L91.09,210.35 L91.88,208.98 L92.67,207.60 L93.47,206.21 L94.26,204.81 L95.05,203.40 L95.84,201.99 L96.64,200.57 L97.43,199.14 L98.22,197.72 L99.01,196.30 L99.81,194.88 L100.60,193.47 L101.39,192.07 L102.18,190.67 L102.97,189.29 L103.77,187.91 L104.56,186.55 L105.35,185.21 L106.15,183.87 L106.94,182.56 L107.73,181.27 L108.52,179.99 L109.31,178.73 L110.11,177.50 L110.90,176.28 L111.69,175.09 L112.49,173.92 L113.28,172.77 L114.07,171.65 L114.86,170.55 L115.66,169.48 L116.45,168.43 L117.24,167.40 L118.03,166.40 L118.83,165.43 L119.62,164.48 L120.41,163.56 L121.20,162.67 L122.00,161.80 L122.79,160.95 L123.58,160.14 L124.37,159.34 L125.16,158.58 L125.96,157.84 L126.75,157.12 L127.54,156.43 L128.34,155.77 L129.13,155.12 L129.92,154.51 L130.71,153.92 L131.50,153.35 L132.30,152.80 L133.09,152.28 L133.88,151.78 L134.68,151.31 L135.47,150.85 L136.26,150.42 L137.05,150.01 L137.85,149.62 L138.64,149.25 L139.43,148.90 L140.22,148.58 L141.01,148.27 L141.81,147.98 L142.60,147.71 L143.39,147.46 L144.19,147.22 L144.98,147.00 L145.77,146.81 L146.56,146.62 L147.35,146.46 L148.15,146.31 L148.94,146.17 L149.73,146.05 L150.53,145.95 L151.32,145.86 L152.11,145.79 L152.90,145.73 L153.70,145.68 L154.49,145.65 L155.28,145.62 L156.07,145.61 L156.87,145.62 L157.66,145.63 L158.45,145.66 L159.24,145.70 L160.04,145.75 L160.83,145.81 L161.62,145.87 L162.41,145.95 L163.20,146.04 L164.00,146.14 L164.79,146.25 L165.58,146.36 L166.38,146.49 L167.17,146.62 L167.96,146.76 L168.75,146.91 L169.55,147.07 L170.34,147.23 L171.13,147.40 L171.92,147.58 L172.72,147.76 L173.51,147.95 L174.30,148.14 L175.09,148.34 L175.89,148.55 L176.68,148.76 L177.47,148.98 L178.26,149.20 L179.06,149.43 L179.85,149.66 L180.64,149.90 L181.43,150.14 L182.22,150.39 L183.02,150.64 L183.81,150.89 L184.60,151.14 L185.40,151.40 L186.19,151.67 L186.98,151.93 L187.77,152.20 L188.56,152.48 L189.36,152.75 L190.15,153.03 L190.94,153.31 L191.74,153.59 L192.53,153.88 L193.32,154.16 L194.11,154.45 L194.91,154.74 L195.70,155.03 L196.49,155.33 L197.28,155.62 L198.08,155.92 L198.87,156.22 L199.66,156.52 L200.45,156.82 L201.25,157.12 L202.04,157.43 L202.83,157.73 L203.62,158.03 L204.41,158.34 L205.21,158.65 L206.00,158.95 L206.79,159.26 L207.59,159.57 L208.38,159.88 L209.17,160.18 L209.96,160.49 L210.75,160.80 L211.55,161.11 L212.34,161.42 L213.13,161.73 L213.93,162.04 L214.72,162.35 L215.51,162.66 L216.30,162.97 L217.10,163.28 L217.89,163.58 L218.68,163.89 L219.47,164.20 L220.27,164.51 L221.06,164.82 L221.85,165.12 L222.64,165.43 L223.44,165.74 L224.23,166.04 L225.02,166.35 L225.81,166.65 L226.60,166.95 L227.40,167.26 L228.19,167.56 L228.98,167.86 L229.78,168.16 L230.57,168.46 L231.36,168.76 L232.15,169.06 L232.95,169.36 L233.74,169.65 L234.53,169.95 L235.32,170.25 L236.12,170.54 L236.91,170.83 L237.70,171.12 L238.49,171.42 L239.29,171.71 L240.08,172.00 L240.87,172.28 L241.66,172.57 L242.46,172.86 L243.25,173.14 L244.04,173.43 L244.83,173.71 L245.62,173.99 L246.42,174.27 L247.21,174.55 L248.00,174.83 L248.80,175.11 L249.59,175.38 L250.38,175.66 L251.17,175.93 L251.97,176.20 L252.76,176.48 L253.55,176.75 L254.34,177.01 L255.13,177.28 L255.93,177.55 L256.72,177.82 L257.51,178.08 L258.31,178.34 L259.10,178.60 L259.89,178.87 L260.68,179.13 L261.48,179.38 L262.27,179.64 L263.06,179.90 L263.85,180.15 L264.64,180.40 L265.44,180.66 L266.23,180.91 L267.02,181.16 L267.82,181.41 L268.61,181.65 L269.40,181.90 L270.19,182.14 L270.99,182.39 L271.78,182.63 L272.57,182.87 L273.36,183.11 L274.15,183.35 L274.95,183.59 L275.74,183.82 L276.53,184.06 L277.33,184.29 L278.12,184.53 L278.91,184.76 L279.70,184.99 L280.50,185.22 L281.29,185.45 L282.08,185.67 L282.87,185.90 L283.67,186.12 L284.46,186.35 L285.25,186.57 L286.04,186.79 L286.83,187.01 L287.63,187.23 L288.42,187.44 L289.21,187.66 L290.00,187.88 L290.80,188.09 L291.59,188.30 L292.38,188.51 L293.18,188.72 L293.97,188.93 L294.76,189.14 L295.55,189.35 L296.35,189.55 L297.14,189.76 L297.93,189.96 L298.72,190.17 L299.52,190.37 L300.31,190.57 L301.10,190.77 L301.89,190.97 L302.69,191.16 L303.48,191.36 L304.27,191.55 L305.06,191.75 L305.86,191.94 L306.65,192.13 L307.44,192.32 L308.23,192.51 L309.03,192.69 L309.82,192.88 L310.61,193.06 L311.40,193.25 L312.20,193.43 L312.99,193.61 L313.78,193.79 L314.57,193.97 L315.37,194.15 L316.16,194.33 L316.95,194.51 L317.74,194.69 L318.53,194.86 L319.33,195.03 L320.12,195.21 L320.91,195.38 L321.70,195.55 L322.50,195.72 L323.29,195.89 L324.08,196.06 L324.88,196.23 L325.67,196.39 L326.46,196.56 L327.25,196.72 L328.05,196.89 L328.84,197.05 L329.63,197.21 L330.42,197.37 L331.22,197.53 L332.01,197.69 L332.80,197.85 L333.59,198.01 L334.38,198.16 L335.18,198.32 L335.97,198.48 L336.76,198.63 L337.56,198.78 L338.35,198.93 L339.14,199.09 L339.93,199.24 L340.73,199.39 L341.52,199.54 L342.31,199.68 L343.10,199.83 L343.90,199.98 L344.69,200.12 L345.48,200.27 L346.27,200.41 L347.07,200.55 L347.86,200.70 L348.65,200.84 L349.44,200.98 L350.24,201.12 L351.03,201.26 L351.82,201.40 L352.61,201.54 L353.41,201.67 L354.20,201.81 L354.99,201.94 L355.78,202.08 L356.57,202.21 L357.37,202.35 L358.16,202.48 L358.95,202.61 L359.75,202.74 L360.54,202.87 L361.33,203.00 L362.12,203.13 L362.92,203.26 L363.71,203.39 L364.50,203.52" fill="none" stroke="#000" stroke-width="1"/>
<path d="M47.20,236.50 L47.99,236.50 L48.79,236.50 L49.58,236.50 L50.37,236.50 L51.16,236.50 L51.96,236.50 L52.75,236.50 L53.54,236.50 L54.33,236.49 L55.12,236.49 L55.92,236.49 L56.71,236.48 L57.50,236.47 L58.30,236.45 L59.09,236.43 L59.88,236.40 L60.67,236.36 L61.47,236.30 L62.26,236.24 L63.05,236.16 L63.84,236.06 L64.64,235.94 L65.43,235.80 L66.22,235.63 L67.01,235.43 L67.81,235.20 L68.60,234.94 L69.39,234.64 L70.18,234.30 L70.98,233.93 L71.77,233.51 L72.56,233.05 L73.35,232.54 L74.14,231.99 L74.94,231.40 L75.73,230.75 L76.52,230.06 L77.32,229.32 L78.11,228.54 L78.90,227.70 L79.69,226.83 L80.48,225.91 L81.28,224.94 L82.07,223.93 L82.86,222.89 L83.66,221.80 L84.45,220.68 L85.24,219.52 L86.03,218.32 L86.83,217.10 L87.62,215.85 L88.41,214.57 L89.20,213.27 L90.00,211.94 L90.79,210.60 L91.58,209.23 L92.37,207.85 L93.17,206.46 L93.96,205.06 L94.75,203.65 L95.54,202.24 L96.34,200.82 L97.13,199.39 L97.92,197.97 L98.71,196.55 L99.51,195.13 L100.30,193.72 L101.09,192.32 L101.88,190.92 L102.67,189.54 L103.47,188.16 L104.26,186.80 L105.05,185.46 L105.85,184.12 L106.64,182.81 L107.43,181.52 L108.22,180.24 L109.02,178.98 L109.81,177.75 L110.60,176.53 L111.39,175.34 L112.19,174.17 L112.98,173.02 L113.77,171.90 L114.56,170.80 L115.36,169.73 L116.15,168.68 L116.94,167.65 L117.73,166.65 L118.53,165.68 L119.32,164.73 L120.11,163.81 L120.90,162.92 L121.70,162.05 L122.49,161.20 L123.28,160.39 L124.07,159.59 L124.86,158.83 L125.66,158.09 L126.45,157.37 L127.24,156.68 L128.03,156.02 L128.83,155.37 L129.62,154.76 L130.41,154.17 L131.20,153.60 L132.00,153.05 L132.79,152.53 L133.58,152.03 L134.38,151.56 L135.17,151.10 L135.96,150.67 L136.75,150.26 L137.55,149.87 L138.34,149.50 L139.13,149.15 L139.92,148.83 L140.71,148.52 L141.51,148.23 L142.30,147.96 L143.09,147.71 L143.88,147.47 L144.68,147.25 L145.47,147.06 L146.26,146.87 L147.05,146.71 L147.85,146.56 L148.64,146.42 L149.43,146.30 L150.22,146.20 L151.02,146.11 L151.81,146.04 L152.60,145.98 L153.40,145.93 L154.19,145.90 L154.98,145.87 L155.77,145.86 L156.56,145.87 L157.36,145.88 L158.15,145.91 L158.94,145.95 L159.74,146.00 L160.53,146.06 L161.32,146.12 L162.11,146.20 L162.90,146.29 L163.70,146.39 L164.49,146.50 L165.28,146.61 L166.07,146.74 L166.87,146.87 L167.66,147.01 L168.45,147.16 L169.25,147.32 L170.04,147.48 L170.83,147.65 L171.62,147.83 L172.41,148.01 L173.21,148.20 L174.00,148.39 L174.79,148.59 L175.59,148.80 L176.38,149.01 L177.17,149.23 L177.96,149.45 L178.75,149.68 L179.55,149.91 L180.34,150.15 L181.13,150.39 L181.92,150.64 L182.72,150.89 L183.51,151.14 L184.30,151.39 L185.09,151.65 L185.89,151.92 L186.68,152.18 L187.47,152.45 L188.26,152.73 L189.06,153.00 L189.85,153.28 L190.64,153.56 L191.44,153.84 L192.23,154.13 L193.02,154.41 L193.81,154.70 L194.60,154.99 L195.40,155.28 L196.19,155.58 L196.98,155.87 L197.78,156.17 L198.57,156.47 L199.36,156.77 L200.15,157.07 L200.94,157.37 L201.74,157.68 L202.53,157.98 L203.32,158.28 L204.11,158.59 L204.91,158.90 L205.70,159.20 L206.49,159.51 L207.28,159.82 L208.08,160.13 L208.87,160.43 L209.66,160.74 L210.45,161.05 L211.25,161.36 L212.04,161.67 L212.83,161.98 L213.62,162.29 L214.42,162.60 L215.21,162.91 L216.00,163.22 L216.80,163.53 L217.59,163.83 L218.38,164.14 L219.17,164.45 L219.97,164.76 L220.76,165.07 L221.55,165.37 L222.34,165.68 L223.13,165.99 L223.93,166.29 L224.72,166.60 L225.51,166.90 L226.30,167.20 L227.10,167.51 L227.89,167.81 L228.68,168.11 L229.47,168.41 L230.27,168.71 L231.06,169.01 L231.85,169.31 L232.65,169.61 L233.44,169.90 L234.23,170.20 L235.02,170.50 L235.81,170.79 L236.61,171.08 L237.40,171.37 L238.19,171.67 L238.99,171.96 L239.78,172.25 L240.57,172.53 L241.36,172.82 L242.16,173.11 L242.95,173.39 L243.74,173.68 L244.53,173.96 L245.32,174.24 L246.12,174.52 L246.91,174.80 L247.70,175.08 L248.50,175.36 L249.29,175.63 L250.08,175.91 L250.87,176.18 L251.67,176.45 L252.46,176.73 L253.25,177.00 L254.04,177.26 L254.83,177.53 L255.63,177.80 L256.42,178.07 L257.21,178.33 L258.00,178.59 L258.80,178.85 L259.59,179.12 L260.38,179.38 L261.18,179.63 L261.97,179.89 L262.76,180.15 L263.55,180.40 L264.34,180.65 L265.14,180.91 L265.93,181.16 L266.72,181.41 L267.52,181.66 L268.31,181.90 L269.10,182.15 L269.89,182.39 L270.69,182.64 L271.48,182.88 L272.27,183.12 L273.06,183.36 L273.85,183.60 L274.65,183.84 L275.44,184.07 L276.23,184.31 L277.03,184.54 L277.82,184.78 L278.61,185.01 L279.40,185.24 L280.19,185.47 L280.99,185.70 L281.78,185.92 L282.57,186.15 L283.37,186.37 L284.16,186.60 L284.95,186.82 L285.74,187.04 L286.53,187.26 L287.33,187.48 L288.12,187.69 L288.91,187.91 L289.70,188.13 L290.50,188.34 L291.29,188.55 L292.08,188.76 L292.88,188.97 L293.67,189.18 L294.46,189.39 L295.25,189.60 L296.05,189.80 L296.84,190.01 L297.63,190.21 L298.42,190.42 L299.22,190.62 L300.01,190.82 L300.80,191.02 L301.59,191.22 L302.38,191.41 L303.18,191.61 L303.97,191.80 L304.76,192.00 L305.56,192.19 L306.35,192.38 L307.14,192.57 L307.93,192.76 L308.73,192.94 L309.52,193.13 L310.31,193.31 L311.10,193.50 L311.90,193.68 L312.69,193.86 L313.48,194.04 L314.27,194.22 L315.06,194.40 L315.86,194.58 L316.65,194.76 L317.44,194.94 L318.23,195.11 L319.03,195.28 L319.82,195.46 L320.61,195.63 L321.40,195.80 L322.20,195.97 L322.99,196.14 L323.78,196.31 L324.57,196.48 L325.37,196.64 L326.16,196.81 L326.95,196.97 L327.75,197.14 L328.54,197.30 L329.33,197.46 L330.12,197.62 L330.92,197.78 L331.71,197.94 L332.50,198.10 L333.29,198.26 L334.08,198.41 L334.88,198.57 L335.67,198.73 L336.46,198.88 L337.25,199.03 L338.05,199.18 L338.84,199.34 L339.63,199.49 L340.43,199.64 L341.22,199.79 L342.01,199.93 L342.80,200.08 L343.60,200.23 L344.39,200.37 L345.18,200.52 L345.97,200.66 L346.77,200.80 L347.56,200.95 L348.35,201.09 L349.14,201.23 L349.94,201.37 L350.73,201.51 L351.52,201.65 L352.31,201.79 L353.11,201.92 L353.90,202.06 L354.69,202.19 L355.48,202.33 L356.27,202.46 L357.07,202.60 L357.86,202.73 L358.65,202.86 L359.44,202.99 L360.24,203.12 L361.03,203.25 L361.82,203.38 L362.62,203.51 L363.41,203.64 L364.20,203.77" fill="none" stroke="#ff00ff" stroke-opacity="0.8" stroke-width="1" stroke-dasharray="2.4,1.6"/>
</g>
<rect x="47.4" y="5.4" width="317" height="230.85" fill="none" stroke="#6c6c6c" stroke-width="1.2"/>
<path d="M47.5,221.10 h1.2 M364.5,221.10 h-1.2" stroke="#6c6c6c" stroke-width="0.8"/>
<path d="M47.5,205.70 h1.2 M364.5,205.70 h-1.2" stroke="#6c6c6c" stroke-width="0.8"/>
<path d="M47.5,190.30 h1.2 M364.5,190.30 h-1.2" stroke="#6c6c6c" stroke-width="0.8"/>
<path d="M47.5,174.90 h1.2 M364.5,174.90 h-1.2" stroke="#6c6c6c" stroke-width="0.8"/>
<path d="M47.5,159.50 h1.2 M364.5,159.50 h-1.2" stroke="#6c6c6c" stroke-width="0.8"/>
<path d="M47.5,144.10 h1.2 M364.5,144.10 h-1.2" stroke="#6c6c6c" stroke-width="0.8"/>
<path d="M47.5,128.70 h1.2 M364.5,128.70 h-1.2" stroke="#6c6c6c" stroke-width="0.8"/>
<path d="M47.5,113.30 h1.2 M364.5,113.30 h-1.2" stroke="#6c6c6c" stroke-width="0.8"/>
<path d="M47.5,97.90 h1.2 M364.5,97.90 h-1.2" stroke="#6c6c6c" stroke-width="0.8"/>
<path d="M47.5,82.50 h1.2 M364.5,82.50 h-1.2" stroke="#6c6c6c" stroke-width="0.8"/>
<path d="M47.5,67.10 h1.2 M364.5,67.10 h-1.2" stroke="#6c6c6c" stroke-width="0.8"/>
<path d="M47.5,51.70 h1.2 M364.5,51.70 h-1.2" stroke="#6c6c6c" stroke-width="0.8"/>
<path d="M47.5,36.30 h1.2 M364.5,36.30 h-1.2" stroke="#6c6c6c" stroke-width="0.8"/>
<path d="M47.5,20.90 h1.2 M364.5,20.90 h-1.2" stroke="#6c6c6c" stroke-width="0.8"/>
<path d="M195.5,236.5 v-1.8 M195.5,5.5 v1.8" stroke="#6c6c6c" stroke-width="1"/>
<text x="42.2" y="9.70" font-size="11.7" text-anchor="end">1.5</text>
<text x="42.2" y="86.68" font-size="11.7" text-anchor="end">1.0</text>
<text x="42.2" y="163.67" font-size="11.7" text-anchor="end">0.5</text>
<text x="42.2" y="240.65" font-size="11.7" text-anchor="end">0</text>
<text x="47.4" y="250.6" font-size="11.7" text-anchor="middle">10</text>
<text x="195.6" y="250.6" font-size="11.7" text-anchor="middle">100</text>
<text x="363.6" y="250.6" font-size="11.7" text-anchor="middle">200</text>
<text x="206.2" y="274.4" font-size="11.95" text-anchor="middle">Temperature (<tspan font-family="Liberation Serif">μ</tspan>K)</text>
<text transform="translate(10,119.6) rotate(-90)" font-size="12.2" text-anchor="middle">Fisher Information</text>
<rect x="204.5" y="29.5" width="149" height="52.7" fill="#fff" stroke="#939393" stroke-width="1"/>
<path d="M221.6,42.6 H242" stroke="#ff0000" stroke-opacity="0.5" stroke-width="0.9" stroke-dasharray="4.5,2.9"/>
<rect x="213.85" y="40.05" width="5.3" height="5.3" fill="#ff0000"/>
<rect x="241.85" y="40.05" width="5.3" height="5.3" fill="#ff0000"/>
<text transform="translate(253.8,46.00) scale(0.92,1) skewX(-12)" font-size="11.8" stroke="#000" stroke-width="0.3" style="font-family:'Liberation Serif';font-style:italic">ω</text>
<text transform="translate(261.20,51.20) scale(1.1,1)" font-size="7.8" style="font-family:'Liberation Sans';font-style:italic">x</text>
<text transform="translate(268.10,46.20) scale(1.06,1)" font-size="11.0" style="font-family:'Liberation Sans';font-style:italic">=</text>
<text transform="translate(279.10,46.20) scale(1.06,1)" font-size="11.0" style="font-family:'Liberation Sans';font-style:italic">2</text>
<text transform="translate(285.5,46.20) scale(1.02,1) skewX(-6)" font-size="11" stroke="#000" stroke-width="0.3" style="font-family:'Liberation Serif';font-style:italic">π</text>
<text transform="translate(293.50,46.20) scale(1.06,1)" font-size="11.0" style="font-family:'Liberation Sans';font-style:italic">x</text>
<text transform="translate(304.10,46.20) scale(1.06,1)" font-size="11.0" style="font-family:'Liberation Sans';font-style:italic">4.0</text>
<text transform="translate(322.60,46.20) scale(1.06,1)" font-size="11.0" style="font-family:'Liberation Sans';font-style:normal">MHz</text>
<path d="M221.6,55.7 H242" stroke="#0000ff" stroke-opacity="0.5" stroke-width="0.9" stroke-dasharray="4.5,2.9"/>
<circle cx="216.50" cy="56.00" r="2.7" fill="#0000ff"/>
<circle cx="244.50" cy="56.00" r="2.7" fill="#0000ff"/>
<text transform="translate(253.8,58.90) scale(0.92,1) skewX(-12)" font-size="11.8" stroke="#000" stroke-width="0.3" style="font-family:'Liberation Serif';font-style:italic">ω</text>
<text transform="translate(261.20,64.10) scale(1.1,1)" font-size="7.8" style="font-family:'Liberation Sans';font-style:italic">x</text>
<text transform="translate(268.10,59.10) scale(1.06,1)" font-size="11.0" style="font-family:'Liberation Sans';font-style:italic">=</text>
<text transform="translate(279.10,59.10) scale(1.06,1)" font-size="11.0" style="font-family:'Liberation Sans';font-style:italic">2</text>
<text transform="translate(285.5,59.10) scale(1.02,1) skewX(-6)" font-size="11" stroke="#000" stroke-width="0.3" style="font-family:'Liberation Serif';font-style:italic">π</text>
<text transform="translate(293.50,59.10) scale(1.06,1)" font-size="11.0" style="font-family:'Liberation Sans';font-style:italic">x</text>
<text transform="translate(304.10,59.10) scale(1.06,1)" font-size="11.0" style="font-family:'Liberation Sans';font-style:italic">5.0</text>
<text transform="translate(322.60,59.10) scale(1.06,1)" font-size="11.0" style="font-family:'Liberation Sans';font-style:normal">MHz</text>
<path d="M221.6,68.7 H242" stroke="#ff00ff" stroke-opacity="0.75" stroke-width="0.9" stroke-dasharray="4.5,2.9"/>
<path d="M213.70,71.20 L219.30,71.20 L216.50,66.20 Z" fill="#ff00ff"/>
<path d="M241.70,71.20 L247.30,71.20 L244.50,66.20 Z" fill="#ff00ff"/>
<text transform="translate(253.8,71.80) scale(0.92,1) skewX(-12)" font-size="11.8" stroke="#000" stroke-width="0.3" style="font-family:'Liberation Serif';font-style:italic">ω</text>
<text transform="translate(261.20,77.00) scale(1.1,1)" font-size="7.8" style="font-family:'Liberation Sans';font-style:italic">x</text>
<text transform="translate(268.10,72.00) scale(1.06,1)" font-size="11.0" style="font-family:'Liberation Sans';font-style:italic">=</text>
<text transform="translate(279.10,72.00) scale(1.06,1)" font-size="11.0" style="font-family:'Liberation Sans';font-style:italic">2</text>
<text transform="translate(285.5,72.00) scale(1.02,1) skewX(-6)" font-size="11" stroke="#000" stroke-width="0.3" style="font-family:'Liberation Serif';font-style:italic">π</text>
<text transform="translate(293.50,72.00) scale(1.06,1)" font-size="11.0" style="font-family:'Liberation Sans';font-style:italic">x</text>
<text transform="translate(304.10,72.00) scale(1.06,1)" font-size="11.0" style="font-family:'Liberation Sans';font-style:italic">6.0</text>
<text transform="translate(322.60,72.00) scale(1.06,1)" font-size="11.0" style="font-family:'Liberation Sans';font-style:normal">MHz</text>
</svg></body></html>
